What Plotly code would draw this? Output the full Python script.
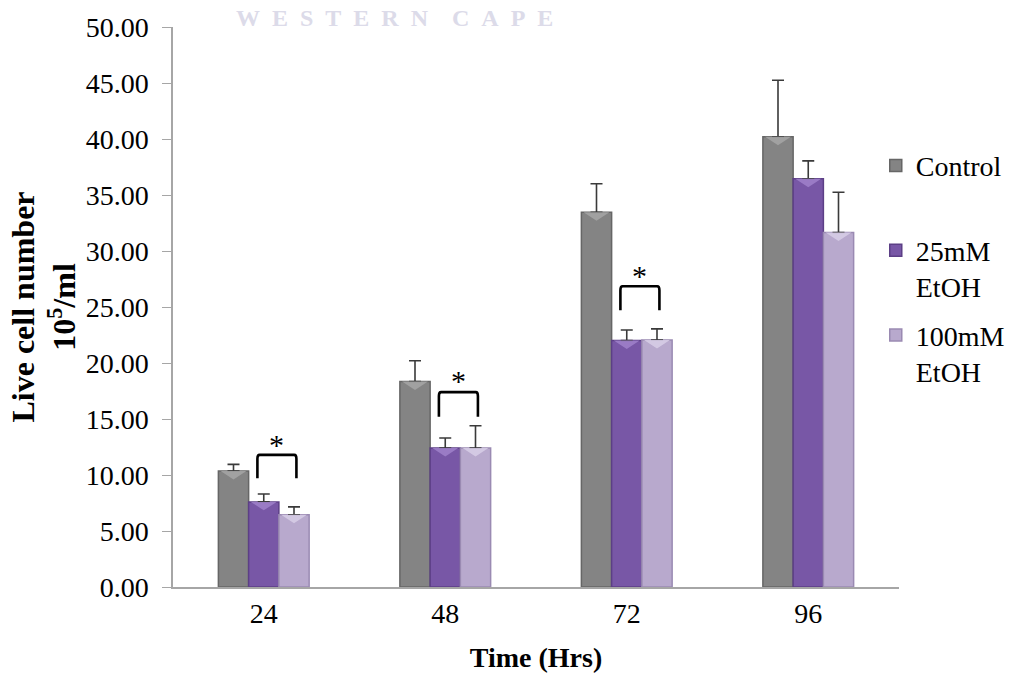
import plotly.graph_objects as go

# ---- data ----
hours = ["24", "48", "72", "96"]
series_names = ["Control<br> ", "25mM<br>EtOH", "100mM<br>EtOH"]
control = [10.35, 18.35, 33.45, 40.2]
etoh25 = [7.6, 12.4, 22.0, 36.45]
etoh100 = [6.45, 12.4, 22.05, 31.65]
control_err = [0.6, 1.85, 2.55, 5.05]
etoh25_err = [0.7, 0.9, 0.95, 1.6]
etoh100_err = [0.7, 2.0, 1.0, 3.6]

# significance brackets (category index, bracket bottom, bracket top, star y)
sig_idx = [0, 1, 2]
sig_low = [9.7, 15.2, 24.7]
sig_high = [11.8, 17.4, 26.85]
sig_star = [12.7, 18.4, 27.8]

watermark = "WESTERN CAPE"

values = [control, etoh25, etoh100]
errors = [control_err, etoh25_err, etoh100_err]
fills = ["#848484", "#7857a6", "#b8a9cd"]
edges = ["#666666", "#5c3f86", "#9a8ab2"]
tops = ["#a4a4a4", "#9d80c9", "#d6cce6"]

SERIF = "Liberation Serif"

x = list(range(len(hours)))
fig = go.Figure()
for k in range(3):
    fig.add_trace(go.Bar(
        x=x, y=values[k], name=series_names[k],
        legendgroup=str(k),
        marker=dict(color=fills[k], line=dict(color=edges[k], width=1.5)),
        error_y=dict(type="data", array=errors[k], arrayminus=[0]*4, symmetric=False,
                     color="#3a3a3a", thickness=1.6, width=6),
    ))

# bevel highlights on bar tops (computed from data)
shapes = []
bw = 1/6
for k in range(3):
    for i, v in enumerate(values[k]):
        xc = i - 0.25 + (k + 0.5) * bw
        x0, x1 = xc - bw/2 + 0.012, xc + bw/2 - 0.012
        d = 0.75
        shapes.append(dict(type="path", xref="x", yref="y", layer="above",
                           path=f"M {x0},{v} L {x1},{v} L {xc},{v-d} Z",
                           fillcolor=tops[k], line=dict(width=0), opacity=0.9))

# brackets and stars
annotations = []
for j, i in enumerate(sig_idx):
    xl, xr = i - 0.035, i + 0.18
    lo, hi = sig_low[j], sig_high[j]
    r = 0.35
    rx = 0.012
    path = (f"M {xl},{lo} L {xl},{hi-r} Q {xl},{hi} {xl+rx},{hi} "
            f"L {xr-rx},{hi} Q {xr},{hi} {xr},{hi-r} L {xr},{lo}")
    shapes.append(dict(type="path", xref="x", yref="y", path=path,
                       line=dict(color="black", width=2.6)))
    annotations.append(dict(x=(xl+xr)/2, y=sig_star[j], xref="x", yref="y", text="*",
                            showarrow=False, font=dict(family=SERIF, size=30, color="black")))

# faint letter-spaced watermark at the very top
nb = "\u00a0"
wm_text = (nb * 4).join((nb * 2).join(word) for word in watermark.split(" "))
annotations.append(dict(x=0.305, xref="paper", xanchor="center",
                        y=1.0, yref="paper", yanchor="top", yshift=24,
                        text=wm_text, showarrow=False,
                        font=dict(family=SERIF, size=24, color="#dcdbe9", weight="bold")))

fig.update_layout(
    width=1022, height=680,
    margin=dict(l=173, r=106, t=24, b=90),
    paper_bgcolor="white", plot_bgcolor="white",
    barmode="group", bargap=0.5, bargroupgap=0,
    font=dict(family=SERIF, size=28, color="black"),
    showlegend=True,
    legend=dict(x=0.968, xanchor="left", y=0.797, yanchor="top", valign="top",
                tracegroupgap=9, font=dict(family=SERIF, size=28, color="black"),
                itemwidth=30, bgcolor="rgba(0,0,0,0)"),
    shapes=shapes, annotations=annotations,
    xaxis=dict(range=[-0.5, 3.5], tickvals=x, ticktext=hours, showline=True,
               linecolor="#a6a6a6", linewidth=2, ticks="", showgrid=False, zeroline=False,
               tickfont=dict(family=SERIF, size=28),
               title=dict(text="Time (Hrs)", font=dict(family=SERIF, size=28, weight="bold"),
                          standoff=20)),
    yaxis=dict(range=[0, 50], dtick=5, tickformat=".2f", showline=True,
               linecolor="#a6a6a6", linewidth=1.5, ticks="outside", ticklen=9,
               tickcolor="#a6a6a6", showgrid=False, zeroline=False,
               ticklabelstandoff=8,
               tickfont=dict(family=SERIF, size=28),
               title=dict(text="Live cell number<br>10<sup>5</sup>/ml",
                          font=dict(family=SERIF, size=32, weight="bold"), standoff=0)),
)

fig.write_html("out.html")
